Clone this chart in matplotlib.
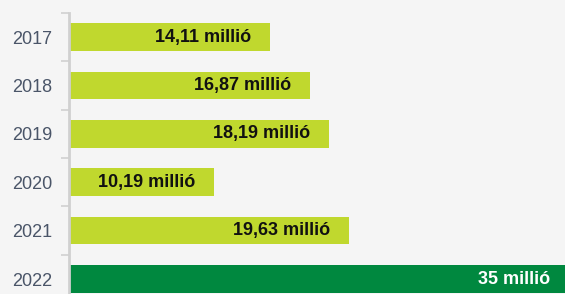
import matplotlib
matplotlib.use("Agg")
from matplotlib import pyplot as plt

plt.rcParams['font.family'] = ['Liberation Sans', 'DejaVu Sans']

# data
years = ['2017', '2018', '2019', '2020', '2021', '2022']
values = [14.11, 16.87, 18.19, 10.19, 19.63, 35]
labels = ['14,11 millió', '16,87 millió', '18,19 millió', '10,19 millió', '19,63 millió', '35 millió']
highlight = [False, False, False, False, False, True]

bg = '#f5f5f5'
light = '#c0d82e'
dark = '#00883f'

fig = plt.figure(figsize=(5.65, 2.94), dpi=100, facecolor=bg)
ax = fig.add_axes([69 / 565, 0, 496 / 565, 281 / 294])
ax.set_facecolor(bg)

pos = list(range(len(years)))
colors = [dark if h else light for h in highlight]
ax.barh(pos, values, height=0.57, color=colors)

for p, v, lab, h in zip(pos, values, labels, highlight):
    ax.annotate(lab, xy=(v, p), xytext=(-13.5, 0), textcoords='offset points',
                ha='right', va='center', fontsize=13, fontweight='bold',
                color='white' if h else '#111111', annotation_clip=False)

ax.set_xlim(0, 496 / 14.27)
ax.set_ylim(5.31, -0.5)

ax.set_yticks(pos)
ax.set_yticklabels(years, fontsize=13, color='#4a5568')
ax.set_yticks([i - 0.5 for i in range(len(years))], minor=True)
ax.tick_params(axis='y', which='major', length=0, pad=12)
ax.tick_params(axis='y', which='minor', length=6, width=1.2, color='#d0d0d0')
ax.set_xticks([])

for s in ['top', 'right', 'bottom']:
    ax.spines[s].set_visible(False)
ax.spines['left'].set_color('#d0d0d0')
ax.spines['left'].set_linewidth(2)

fig.savefig('out.png', dpi=100, facecolor=bg)
